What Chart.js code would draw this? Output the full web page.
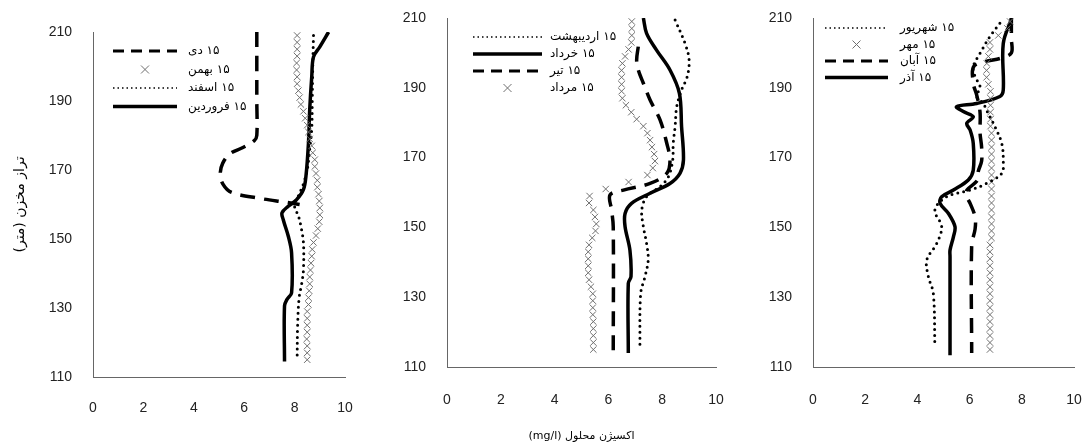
<!DOCTYPE html>
<html>
<head>
<meta charset="utf-8">
<script src="https://cdn.jsdelivr.net/npm/chart.js"></script>
<style>
  body { margin: 0; background: #fff; }
  #wrap { position: relative; width: 1091px; height: 445px; }
  canvas { position: absolute; top: 0; }
</style>
</head>
<body>
<div id="wrap">
  <canvas id="panel1" width="370" height="445" dir="rtl" style="left:0"></canvas>
  <canvas id="panel2" width="370" height="445" dir="rtl" style="left:370px"></canvas>
  <canvas id="panel3" width="351" height="445" dir="rtl" style="left:740px"></canvas>
</div>
<script>
// axis ticks
const xTicks = [0, 2, 4, 6, 8, 10];
const yTicks = [110, 130, 150, 170, 190, 210];

// elevations (m) used by the sampled "cross" profiles
const crossElev = [115, 117, 119, 121, 123, 125, 127, 129, 131, 133, 135, 137,
  139, 141, 143, 145, 147, 149, 151, 153, 155, 157, 159, 161,
  163, 165, 167, 169, 171, 173, 175, 177, 179, 181, 183, 185,
  187, 189, 191, 193, 195, 197, 199, 201, 203, 205, 207, 209];

// ---- panel 1: dey, bahman, esfand, farvardin ----
const deyElev = [210, 200, 190, 180, 178.5, 176.5, 174.8, 172, 169, 166, 163.5, 161.8, 160.6, 160];
const deyDO   = [6.5, 6.5, 6.5, 6.5, 6.4, 5.95, 5.45, 5.15, 5.05, 5.15, 5.5, 6.6, 7.7, 8.2];

const bahmanDO = [8.5, 8.5, 8.5, 8.48, 8.5, 8.5, 8.5, 8.5, 8.55, 8.55, 8.58, 8.6,
  8.6, 8.63, 8.65, 8.68, 8.7, 8.75, 8.85, 8.92, 8.98, 9.0, 9.0, 8.98,
  8.95, 8.9, 8.9, 8.85, 8.8, 8.8, 8.72, 8.68, 8.6, 8.55, 8.5, 8.42,
  8.35, 8.25, 8.2, 8.15, 8.1, 8.1, 8.08, 8.08, 8.1, 8.1, 8.1, 8.1];

const esfandElev = [209, 200, 190, 182, 176, 170, 166, 163, 159.6, 156.7, 153.7, 149, 141, 137, 133, 125, 115];
const esfandDO   = [8.75, 8.72, 8.7, 8.68, 8.6, 8.5, 8.35, 8.18, 8.0, 8.15, 8.25, 8.35, 8.35, 8.28, 8.18, 8.12, 8.1];

const farvardinElev = [210, 205.7, 202.8, 197, 187.5, 177.8, 168.2, 164.3, 161.4, 159.5, 157.6, 155.6, 150.8, 146, 134.4, 132.5, 130.6, 114.5];
const farvardinDO   = [9.35, 9.0, 8.75, 8.68, 8.6, 8.55, 8.45, 8.35, 8.08, 7.75, 7.5, 7.55, 7.75, 7.88, 7.88, 7.7, 7.6, 7.6];

// ---- panel 2: ordibehesht, khordad, tir, mordad ----
const ordibeheshtElev = [209.4, 202.7, 198, 193.2, 189.4, 184.6, 178.9, 174.1, 169.3, 164.5, 161.7, 158.8, 155, 150.2, 145.4, 140.7, 135.9, 131.1, 115.3];
const ordibeheshtDO   = [8.48, 8.85, 9.0, 8.93, 8.72, 8.54, 8.48, 8.41, 8.39, 8.23, 7.92, 7.42, 7.24, 7.3, 7.42, 7.48, 7.36, 7.2, 7.17];

const khordadElev = [210, 205.6, 200.8, 195.1, 188.4, 178.9, 169.3, 165.5, 162.6, 159.8, 156.9, 154, 150.2, 143.5, 135.9, 134, 114];
const khordadDO   = [7.3, 7.42, 7.79, 8.29, 8.64, 8.72, 8.79, 8.66, 8.29, 7.55, 6.86, 6.62, 6.62, 6.8, 6.84, 6.74, 6.74];

const tirElev = [201.8, 198, 195.1, 191.3, 186.5, 180.8, 174.1, 169.3, 165.5, 162.6, 160.7, 159.3, 155, 150.2, 114];
const tirDO   = [7.11, 7.05, 7.11, 7.3, 7.55, 7.92, 8.17, 8.29, 8.17, 7.55, 6.56, 6.06, 6.12, 6.18, 6.18];

const mordadDO = [5.44, 5.44, 5.44, 5.44, 5.44, 5.42, 5.42, 5.42, 5.42, 5.35, 5.28, 5.25,
  5.25, 5.25, 5.25, 5.28, 5.4, 5.52, 5.55, 5.5, 5.44, 5.28, 5.3, 5.9,
  6.75, 7.45, 7.65, 7.73, 7.7, 7.62, 7.55, 7.45, 7.3, 7.05, 6.85, 6.65,
  6.52, 6.49, 6.49, 6.49, 6.49, 6.52, 6.62, 6.75, 6.85, 6.87, 6.87, 6.87];

// ---- panel 3: shahrivar, mehr, aban, azar ----
const shahrivarElev = [208.5, 204.7, 199.9, 196.1, 193.2, 190.3, 187.5, 185.5, 183.6, 178.9, 174.1, 169.3, 165.5, 162.6, 160.7, 158.8, 155, 150.2, 145.4, 140.7, 135.9, 131.1, 115.8];
const shahrivarDO   = [7.16, 6.78, 6.4, 6.14, 6.21, 6.4, 6.27, 6.53, 6.65, 6.97, 7.23, 7.29, 7.23, 6.65, 6.02, 5.12, 4.67, 4.93, 4.74, 4.36, 4.42, 4.61, 4.67];

const mehrDO = [6.78, 6.78, 6.78, 6.78, 6.78, 6.78, 6.78, 6.78, 6.78, 6.78, 6.78, 6.78,
  6.78, 6.78, 6.78, 6.78, 6.84, 6.84, 6.84, 6.84, 6.84, 6.84, 6.84, 6.84,
  6.84, 6.84, 6.84, 6.84, 6.84, 6.84, 6.84, 6.84, 6.8, 6.8, 6.8, 6.8,
  6.8, 6.8, 6.72, 6.65, 6.65, 6.66, 6.72, 6.78, 6.78, 7.1, 7.45, 7.55];

const abanElev = [210, 204, 200, 198.5, 197.5, 196, 191, 188, 183, 177, 173, 169, 166, 163.5, 160.7, 158.8, 156.9, 153, 149.5, 145, 114];
const abanDO   = [7.6, 7.6, 7.6, 7.2, 6.6, 6.15, 6.15, 6.27, 6.4, 6.4, 6.46, 6.46, 6.33, 6.3, 5.9, 5.89, 6.02, 6.21, 6.21, 6.08, 6.08];

const azarElev = [209.9, 202.7, 189.4, 187.5, 185.5, 184.6, 183.2, 181.7, 179.8, 177.9, 174.1, 166.4, 163.6, 160.7, 158.8, 156.9, 154, 150.2, 147.3, 143.5, 141.6, 113.4];
const azarDO   = [7.61, 7.29, 7.29, 7.16, 6.27, 5.5, 5.76, 6.14, 5.89, 6.02, 6.14, 6.14, 5.95, 5.38, 4.93, 4.87, 5.19, 5.44, 5.38, 5.25, 5.25, 5.25];

// line styles
const solid = { borderColor: '#000', borderWidth: 3.5, pointRadius: 0, showLine: true, tension: 0.35 };
const dashed = Object.assign({}, solid, { borderDash: [15, 9], legendDash: [11, 7], legendWidth: 3 });
const dotted = Object.assign({}, solid, { borderWidth: 3, borderDash: [0, 6], borderCapStyle: 'round', legendDash: [1.5, 3], legendWidth: 1.5 });
const crosses = { showLine: false, pointStyle: 'crossRot', pointRadius: 4.5, pointBorderWidth: 1,
  pointBorderColor: '#6f6f6f', pointBackgroundColor: 'rgba(0,0,0,0)', borderColor: '#6f6f6f' };

function profile(label, elev, values, style) {
  return Object.assign({ label: label, data: elev.map((e, i) => ({ x: values[i], y: e })) }, style);
}

// legend drawn inside the plot, sample on the left, persian label on the right
const legendBox = {
  id: 'legendBox',
  afterDatasetsDraw(chart, args, opts) {
    const ctx = chart.ctx;
    ctx.save();
    ctx.font = '12px "DejaVu Sans"';
    ctx.fillStyle = '#000';
    ctx.textBaseline = 'middle';
    ctx.textAlign = 'left';
    ctx.direction = 'rtl';
    chart.data.datasets.forEach((ds, i) => {
      const y = opts.top + i * opts.gap;
      const x0 = opts.left, x1 = opts.left + opts.sample;
      if (ds.showLine === false) {
        const cx = (x0 + x1) / 2, r = 4;
        ctx.strokeStyle = ds.pointBorderColor;
        ctx.lineWidth = 1;
        ctx.setLineDash([]);
        ctx.beginPath();
        ctx.moveTo(cx - r, y - r); ctx.lineTo(cx + r, y + r);
        ctx.moveTo(cx + r, y - r); ctx.lineTo(cx - r, y + r);
        ctx.stroke();
      } else {
        ctx.strokeStyle = ds.borderColor;
        ctx.lineWidth = ds.legendWidth || ds.borderWidth;
        ctx.setLineDash(ds.legendDash || []);
        ctx.lineCap = 'butt';
        ctx.beginPath();
        ctx.moveTo(x0, y); ctx.lineTo(x1, y);
        ctx.stroke();
      }
      ctx.fillText(ds.label, opts.textX, y);
    });
    ctx.restore();
  }
};

const tickFont = { family: '"Liberation Sans", Arial, sans-serif', size: 14 };

function makePanel(id, datasets, cfg) {
  return new Chart(document.getElementById(id), {
    type: 'scatter',
    data: { datasets: datasets },
    options: {
      responsive: false,
      animation: false,
      events: [],
      layout: { padding: { top: cfg.top, right: cfg.right, left: 0, bottom: 0 } },
      plugins: {
        legend: { display: false },
        tooltip: { enabled: false },
        legendBox: cfg.legend
      },
      scales: {
        x: {
          type: 'linear', min: 0, max: 10,
          afterBuildTicks: s => { s.ticks = xTicks.map(v => ({ value: v })); },
          ticks: { padding: 0, font: tickFont, color: '#222' },
          // hidden tick marks only push the labels away from the axis
          grid: { display: false, drawTicks: true, tickLength: cfg.xGap },
          border: { color: '#666', width: 1 },
          title: cfg.xTitle || { display: false },
          afterFit: s => { s.height = cfg.xHeight; }
        },
        y: {
          type: 'linear', min: 110, max: 210,
          afterBuildTicks: s => { s.ticks = yTicks.map(v => ({ value: v })); },
          ticks: { padding: 0, font: tickFont, color: '#222' },
          grid: { display: false, drawTicks: true, tickLength: 21 },
          border: { color: '#666', width: 1 },
          title: cfg.yTitle || { display: false },
          afterFit: s => { s.width = cfg.yWidth; }
        }
      }
    },
    plugins: [legendBox]
  });
}

const titleFont = { family: '"DejaVu Sans"', size: 11 };

makePanel('panel1', [
  profile('۱۵ دی', deyElev, deyDO, dashed),
  profile('۱۵ بهمن', crossElev, bahmanDO, crosses),
  profile('۱۵ اسفند', esfandElev, esfandDO, dotted),
  profile('۱۵ فروردین', farvardinElev, farvardinDO, solid)
], {
  top: 32, right: 25, yWidth: 93, xHeight: 68, xGap: 23,
  legend: { left: 113, sample: 64, textX: 188, top: 51, gap: 18.5 },
  yTitle: { display: true, text: 'تراز مخزن (متر)', font: { family: '"DejaVu Sans"', size: 14 }, color: '#000', padding: { top: 12, bottom: 0 } }
});

makePanel('panel2', [
  profile('۱۵ اردیبهشت', ordibeheshtElev, ordibeheshtDO, dotted),
  profile('۱۵ خرداد', khordadElev, khordadDO, solid),
  profile('۱۵ تیر', tirElev, tirDO, dashed),
  profile('۱۵ مرداد', crossElev, mordadDO, crosses)
], {
  top: 18, right: 24, yWidth: 77, xHeight: 78, xGap: 25,
  legend: { left: 103, sample: 69, textX: 180, top: 37, gap: 17 },
  xTitle: { display: true, text: 'اکسیژن محلول (mg/l)', font: titleFont, color: '#000', padding: { top: 0, bottom: 2 } }
});

makePanel('panel3', [
  profile('۱۵ شهریور', shahrivarElev, shahrivarDO, dotted),
  profile('۱۵ مهر', crossElev, mehrDO, crosses),
  profile('۱۵ آبان', abanElev, abanDO, dashed),
  profile('۱۵ آذر', azarElev, azarDO, solid)
], {
  top: 18, right: 17, yWidth: 73, xHeight: 78, xGap: 25,
  legend: { left: 85, sample: 63, textX: 160, top: 28, gap: 16.5 }
});
</script>
</body>
</html>
